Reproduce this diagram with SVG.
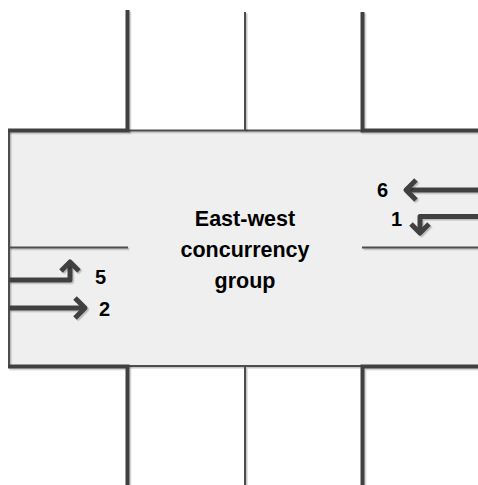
<svg xmlns="http://www.w3.org/2000/svg" width="478" height="485" viewBox="0 0 478 485">
  <defs>
    <filter id="sh" filterUnits="userSpaceOnUse" x="0" y="0" width="478" height="485">
      <feDropShadow dx="1.5" dy="1.5" stdDeviation="0.7" flood-color="#000" flood-opacity="0.22"/>
    </filter>
    <style>
      .thick{fill:none;stroke:#404040;stroke-width:4;stroke-linejoin:miter;filter:url(#sh)}
      .thin{fill:none;stroke:#4d4d4d;stroke-width:2;filter:url(#sh)}
      .arr{fill:none;stroke:#404040;stroke-width:5;stroke-linejoin:round;stroke-linecap:butt;filter:url(#sh)}
      .num{font-family:"Liberation Sans",Arial,sans-serif;font-weight:bold;font-size:20px;fill:#000}
      .lbl{font-family:"Liberation Sans",Arial,sans-serif;font-weight:bold;font-size:21.5px;fill:#000;text-anchor:middle}
    </style>
  </defs>
  <rect width="478" height="485" fill="#ffffff"/>
  <g id="intersection">
    <rect x="9" y="131" width="469" height="235" fill="#efefef"/>
    <path class="thin" d="M9,131 V366"/>
    <path class="thin" d="M127,130.5 H362"/>
    <path class="thin" d="M127,366 H362"/>
    <path class="thin" d="M245,12 V130"/>
    <path class="thin" d="M245,367 V485"/>
    <path class="thin" d="M9,247.5 H128"/>
    <path class="thin" d="M362,247.5 H478"/>
    <path class="thick" d="M127.5,10 V130.5 H8"/>
    <path class="thick" d="M362.5,12 V130.5 H478"/>
    <path class="thick" d="M8,366.5 H127.5 V485"/>
    <path class="thick" d="M478,366.5 H362.5 V485"/>
  </g>
  <g id="label-group">
    <text class="lbl" x="245" y="226">East-west</text>
    <text class="lbl" x="245" y="257">concurrency</text>
    <text class="lbl" x="245" y="288">group</text>
  </g>
  <g id="connectors">
    <g id="arrow-6">
      <path class="arr" d="M478,190 H406"/>
      <path class="arr" d="M416,180 L406,190 L416,200"/>
    </g>
    <g id="arrow-1">
      <path class="arr" d="M478,216.5 H420 V231"/>
      <path class="arr" d="M411,224 L420,233 L429,224"/>
    </g>
    <g id="arrow-5">
      <path class="arr" d="M9,280 H70 V264"/>
      <path class="arr" d="M61,271 L70,262 L79,271"/>
    </g>
    <g id="arrow-2">
      <path class="arr" d="M9,308 H83"/>
      <path class="arr" d="M75,298 L85,308 L75,318"/>
    </g>
  </g>
  <g id="numbers">
    <text class="num" x="377" y="197">6</text>
    <text class="num" x="391" y="226">1</text>
    <text class="num" x="95" y="284">5</text>
    <text class="num" x="99" y="316">2</text>
  </g>
</svg>
